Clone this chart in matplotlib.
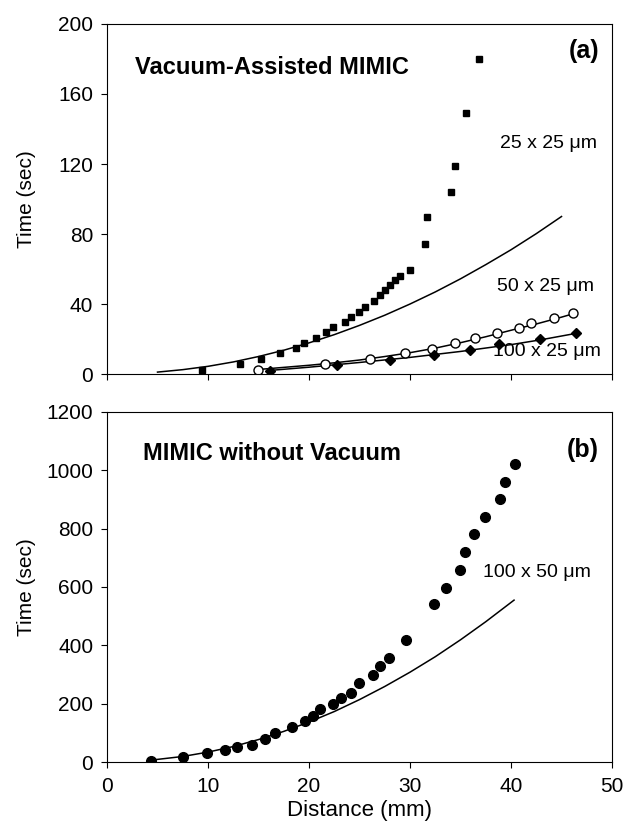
import numpy as np
import matplotlib
matplotlib.use("Agg")
import matplotlib.pyplot as plt

plt.rcParams['font.family'] = ['Liberation Sans', 'DejaVu Sans']

# panel (a): vacuum-assisted MIMIC
sq_x = [9.4, 13.2, 15.2, 17.1, 18.7, 19.5, 20.7, 21.7, 22.4, 23.6, 24.2, 24.9, 25.5,
        26.4, 27.0, 27.5, 28.0, 28.5, 29.0, 30.0, 31.5, 31.7, 34.1, 34.5, 35.5, 36.8]
sq_y = [2.3, 5.7, 8.8, 12.0, 14.7, 17.7, 20.8, 23.8, 26.7, 29.9, 32.7, 35.6, 38.5,
        41.7, 45.0, 48.0, 51.0, 54.0, 56.0, 59.4, 74.3, 89.5, 104, 119, 149, 180]
sq_fit_x = [5, 7.5, 10, 12.5, 15, 17.5, 20, 22.5, 25, 27.5, 30, 32.5, 35, 37.5, 40, 42.5, 45]
sq_fit_y = [1.1, 2.5, 4.4, 6.9, 10.0, 13.6, 17.8, 22.5, 27.8, 33.6, 40.0, 46.9,
            54.4, 62.5, 71.0, 80.2, 90.0]

oc_x = [14.9, 21.6, 26.0, 29.5, 32.2, 34.5, 36.4, 38.6, 40.8, 42.0, 44.3, 46.1]
oc_y = [2.3, 5.5, 8.4, 11.8, 14.3, 17.5, 20.4, 23.2, 26.1, 29.0, 31.8, 34.7]
oc_fit_x = [15, 17.5, 20, 22.5, 25, 27.5, 30, 32.5, 35, 37.5, 40, 42.5, 45, 46.5]
oc_fit_y = [2.6, 3.8, 5.0, 6.4, 8.0, 10.0, 12.2, 14.8, 17.9, 21.3, 25.0, 28.6, 32.5, 35.0]

di_x = [16.1, 22.8, 28.0, 32.4, 35.9, 38.8, 42.9, 46.4]
di_y = [1.9, 5.1, 8.0, 10.9, 13.7, 17.1, 19.8, 23.2]
di_fit_x = [16, 20, 25, 30, 35, 40, 43, 46.5]
di_fit_y = [2.0, 3.9, 6.6, 9.5, 12.9, 16.8, 19.6, 23.3]

# panel (b): MIMIC without vacuum
ci_x = [4.4, 7.5, 9.9, 11.7, 12.9, 14.4, 15.6, 16.6, 18.3, 19.6, 20.4, 21.1, 22.4, 23.2,
        24.2, 24.9, 26.3, 27.0, 27.9, 29.6, 32.4, 33.6, 34.9, 35.4, 36.3, 37.4, 38.9, 39.4, 40.4]
ci_y = [5, 16, 32, 40, 50, 60, 80, 98, 121, 139, 158, 181, 199, 220,
        238, 270, 298, 328, 358, 418, 540, 597, 659, 720, 780, 840, 900, 961, 1022]
ci_fit_x = [4.5, 7.5, 10, 12.5, 15, 17.5, 20, 22.5, 25, 27.5, 30, 32.5, 35, 37.5, 40.3]
ci_fit_y = [7, 19, 34, 53, 77, 105, 137, 173, 214, 259, 308, 361, 419, 481, 555]

x_ticks = [0, 10, 20, 30, 40, 50]
ya_ticks = [0, 40, 80, 120, 160, 200]
yb_ticks = [0, 200, 400, 600, 800, 1000, 1200]

fig = plt.figure(figsize=(6.24, 8.36), dpi=100)
ax1 = fig.add_axes([0.1715, 0.5526, 0.8093, 0.4187])
ax2 = fig.add_axes([0.1715, 0.0885, 0.8093, 0.4187])

ax1.plot(sq_fit_x, sq_fit_y, color='black', lw=1.1)
ax1.plot(oc_fit_x, oc_fit_y, color='black', lw=1.1)
ax1.plot(di_fit_x, di_fit_y, color='black', lw=1.1)
ax1.plot(sq_x, sq_y, 's', color='black', ms=5, ls='none')
ax1.plot(oc_x, oc_y, 'o', mfc='white', mec='black', mew=1.0, ms=6.5, ls='none')
ax1.plot(di_x, di_y, 'D', color='black', ms=5, ls='none')

ax1.text(2.8, 175, 'Vacuum-Assisted MIMIC', fontsize=17, fontweight='bold', va='center')
ax1.text(48.7, 184.5, '(a)', fontsize=18, fontweight='bold', ha='right', va='center')
ax1.text(38.9, 132, '25 x 25 \u03bcm', fontsize=14, va='center')
ax1.text(38.6, 50, '50 x 25 \u03bcm', fontsize=14, va='center')
ax1.text(38.2, 12.6, '100 x 25 \u03bcm', fontsize=14, va='center')

ax2.plot(ci_fit_x, ci_fit_y, color='black', lw=1.1)
ax2.plot(ci_x, ci_y, 'o', color='black', ms=7, ls='none')
ax2.text(3.6, 1059, 'MIMIC without Vacuum', fontsize=17, fontweight='bold', va='center')
ax2.text(48.7, 1068, '(b)', fontsize=18, fontweight='bold', ha='right', va='center')
ax2.text(37.2, 651, '100 x 50 \u03bcm', fontsize=14, va='center')

ax1.set_xlim(0, 50)
ax1.set_ylim(0, 200)
ax1.set_xticks(x_ticks)
ax1.set_xticklabels([])
ax1.set_yticks(ya_ticks)
ax2.set_xlim(0, 50)
ax2.set_ylim(0, 1200)
ax2.set_xticks(x_ticks)
ax2.set_yticks(yb_ticks)

for ax in (ax1, ax2):
    ax.tick_params(direction='out', length=4, width=0.8, labelsize=15, pad=6)
    ax.tick_params(axis='x', pad=7)
    for s in ax.spines.values():
        s.set_linewidth(0.8)
    ax.set_ylabel('Time (sec)', fontsize=15)
    ax.yaxis.set_label_coords(-0.14, 0.5)

ax2.set_xlabel('Distance (mm)', fontsize=16, labelpad=3)

fig.savefig('out.png', dpi=100)
